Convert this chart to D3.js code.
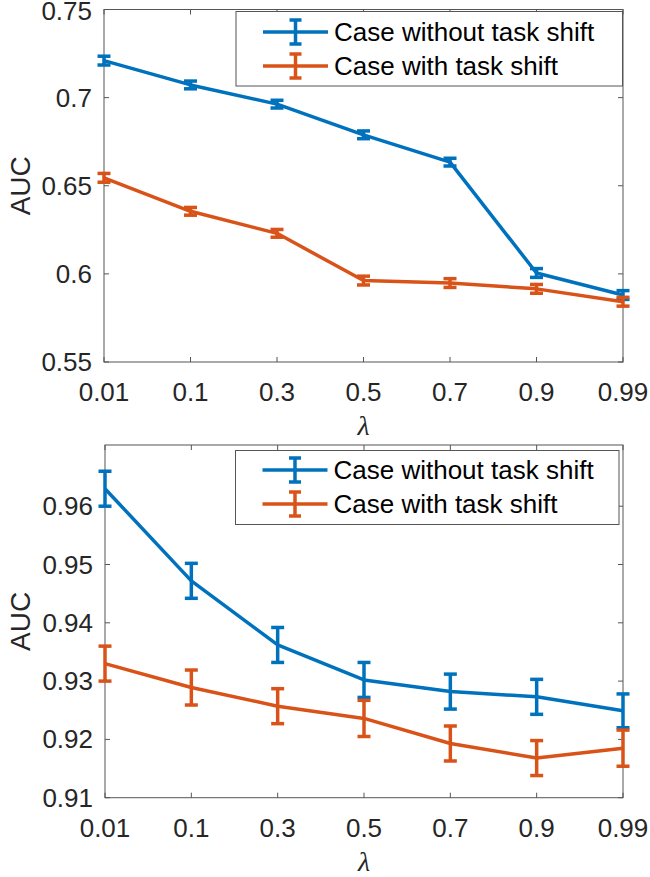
<!DOCTYPE html>
<html>
<head>
<meta charset="utf-8">
<script src="https://cdn.jsdelivr.net/npm/d3@7"></script>
<style>
  body { margin: 0; background: #fff; }
  svg { display: block; font-family: "Liberation Sans", Arial, sans-serif; }
</style>
</head>
<body>
<div id="chart"></div>
<script>
// x categories (lambda)
const lambdas = ['0.01', '0.1', '0.3', '0.5', '0.7', '0.9', '0.99'];
const seriesNames = ['Case without task shift', 'Case with task shift'];
const seriesColors = ['#0072BD', '#D95319'];

// top panel
const topNoShift = [0.7210, 0.7072, 0.6963, 0.6789, 0.6634, 0.6005, 0.5880];
const topNoShiftErr = [0.0025, 0.0022, 0.0022, 0.0022, 0.0022, 0.0025, 0.0025];
const topShift = [0.6545, 0.6355, 0.6230, 0.5962, 0.5948, 0.5915, 0.5842];
const topShiftErr = [0.0025, 0.0022, 0.0022, 0.0025, 0.0025, 0.0025, 0.0025];
const topTicks = [0.55, 0.6, 0.65, 0.7, 0.75];
const topTickLabels = ['0.55', '0.6', '0.65', '0.7', '0.75'];

// bottom panel
const botNoShift = [0.9630, 0.9472, 0.9362, 0.9302, 0.9282, 0.9273, 0.9249];
const botNoShiftErr = [0.0030, 0.0030, 0.0030, 0.0030, 0.0030, 0.0030, 0.0029];
const botShift = [0.9330, 0.9289, 0.9257, 0.9236, 0.9193, 0.9168, 0.9185];
const botShiftErr = [0.0030, 0.0030, 0.0030, 0.0031, 0.0030, 0.0030, 0.0031];
const botTicks = [0.91, 0.92, 0.93, 0.94, 0.95, 0.96];
const botTickLabels = ['0.91', '0.92', '0.93', '0.94', '0.95', '0.96'];

const W = 650, H = 877;
const FONT = 26;
const AXIS_COLOR = '#555';
const TEXT_COLOR = '#262626';

const svg = d3.select('#chart').append('svg')
    .attr('width', W)
    .attr('height', H);

function drawPanel(cfg) {
    const g = svg.append('g');

    let x = d3.scalePoint()
        .domain(lambdas)
        .range([cfg.left, cfg.right])
        .padding(0);

    let y = d3.scaleLinear()
        .domain(cfg.yDomain)
        .range([cfg.bottom, cfg.top]);

    const tickLen = 5;

    // ticks (inside, mirrored on top and right)
    lambdas.forEach(function (d) {
        g.append('line')
            .attr('x1', x(d)).attr('x2', x(d))
            .attr('y1', cfg.bottom).attr('y2', cfg.bottom - tickLen)
            .attr('stroke', AXIS_COLOR);
        g.append('line')
            .attr('x1', x(d)).attr('x2', x(d))
            .attr('y1', cfg.top).attr('y2', cfg.top + tickLen)
            .attr('stroke', AXIS_COLOR);
        g.append('text')
            .attr('x', x(d))
            .attr('y', cfg.bottom + 39)
            .attr('text-anchor', 'middle')
            .style('font-size', FONT + 'px')
            .attr('fill', TEXT_COLOR)
            .text(d);
    });

    cfg.yTicks.forEach(function (t, i) {
        g.append('line')
            .attr('x1', cfg.left).attr('x2', cfg.left + tickLen)
            .attr('y1', y(t)).attr('y2', y(t))
            .attr('stroke', AXIS_COLOR);
        g.append('line')
            .attr('x1', cfg.right).attr('x2', cfg.right - tickLen)
            .attr('y1', y(t)).attr('y2', y(t))
            .attr('stroke', AXIS_COLOR);
        g.append('text')
            .attr('x', cfg.left - 12)
            .attr('y', Math.max(y(t) + 9, 20))
            .attr('text-anchor', 'end')
            .style('font-size', FONT + 'px')
            .attr('fill', TEXT_COLOR)
            .text(cfg.yTickLabels[i]);
    });

    // box
    g.append('rect')
        .attr('x', cfg.left).attr('y', cfg.top)
        .attr('width', cfg.right - cfg.left)
        .attr('height', cfg.bottom - cfg.top)
        .attr('fill', 'none')
        .attr('stroke', AXIS_COLOR);

    // axis labels
    g.append('text')
        .attr('transform', `translate(${(cfg.left + cfg.right) / 2}, ${cfg.bottom + 73})`)
        .attr('text-anchor', 'middle')
        .style('font-size', '28px')
        .style('font-style', 'italic')
        .style('font-family', '"Liberation Serif", serif')
        .attr('fill', TEXT_COLOR)
        .text('λ');

    g.append('text')
        .attr('transform', `translate(30, ${(cfg.top + cfg.bottom) / 2}) rotate(-90)`)
        .attr('text-anchor', 'middle')
        .style('font-size', '28px')
        .attr('fill', TEXT_COLOR)
        .text('AUC');

    // series
    const line = d3.line()
        .x(function (d) { return x(d.lam); })
        .y(function (d) { return y(d.v); });

    cfg.series.forEach(function (s, si) {
        const data = lambdas.map(function (lam, i) {
            return { lam: lam, v: s.values[i], e: s.errs[i] };
        });
        const col = seriesColors[si];
        const sg = g.append('g');

        sg.append('path')
            .datum(data)
            .attr('d', line)
            .attr('fill', 'none')
            .attr('stroke', col)
            .attr('stroke-width', 3.5)
            .attr('stroke-linejoin', 'round');

        const capW = 6.5;
        data.forEach(function (d) {
            const y1 = y(d.v + d.e), y2 = y(d.v - d.e);
            sg.append('line')
                .attr('x1', x(d.lam)).attr('x2', x(d.lam))
                .attr('y1', y1).attr('y2', y2)
                .attr('stroke', col).attr('stroke-width', 3.5);
            [y1, y2].forEach(function (yy) {
                sg.append('line')
                    .attr('x1', x(d.lam) - capW).attr('x2', x(d.lam) + capW)
                    .attr('y1', yy).attr('y2', yy)
                    .attr('stroke', col).attr('stroke-width', 3.5);
            });
        });
    });

    // legend
    const lg = g.append('g');
    lg.append('rect')
        .attr('x', cfg.legend.x0).attr('y', cfg.legend.y0)
        .attr('width', cfg.legend.x1 - cfg.legend.x0)
        .attr('height', cfg.legend.y1 - cfg.legend.y0)
        .attr('fill', '#fff')
        .attr('stroke', AXIS_COLOR);

    seriesNames.forEach(function (name, i) {
        const ry = cfg.legend.rows[i];
        const col = seriesColors[i];
        const lx0 = cfg.legend.x0 + 27, lx1 = lx0 + 65, mid = (lx0 + lx1) / 2;
        lg.append('line')
            .attr('x1', lx0).attr('x2', lx1)
            .attr('y1', ry).attr('y2', ry)
            .attr('stroke', col).attr('stroke-width', 3.5);
        lg.append('line')
            .attr('x1', mid).attr('x2', mid)
            .attr('y1', ry - 12).attr('y2', ry + 12)
            .attr('stroke', col).attr('stroke-width', 3.5);
        [ry - 12, ry + 12].forEach(function (yy) {
            lg.append('line')
                .attr('x1', mid - 6).attr('x2', mid + 6)
                .attr('y1', yy).attr('y2', yy)
                .attr('stroke', col).attr('stroke-width', 3.5);
        });
        lg.append('text')
            .attr('x', lx1 + 6)
            .attr('y', ry + 9)
            .style('font-size', FONT + 'px')
            .attr('fill', '#000')
            .text(name);
    });
}

drawPanel({
    left: 104, right: 623, top: 9.5, bottom: 362,
    yDomain: [0.55, 0.75],
    yTicks: topTicks, yTickLabels: topTickLabels,
    series: [
        { values: topNoShift, errs: topNoShiftErr },
        { values: topShift, errs: topShiftErr }
    ],
    legend: { x0: 236, x1: 622.5, y0: 11.5, y1: 86, rows: [32, 66] }
});

drawPanel({
    left: 105, right: 623, top: 445, bottom: 797.7,
    yDomain: [0.91, 0.9705],
    yTicks: botTicks, yTickLabels: botTickLabels,
    series: [
        { values: botNoShift, errs: botNoShiftErr },
        { values: botShift, errs: botShiftErr }
    ],
    legend: { x0: 235.5, x1: 619, y0: 450.5, y1: 524.5, rows: [470, 504] }
});
</script>
</body>
</html>
